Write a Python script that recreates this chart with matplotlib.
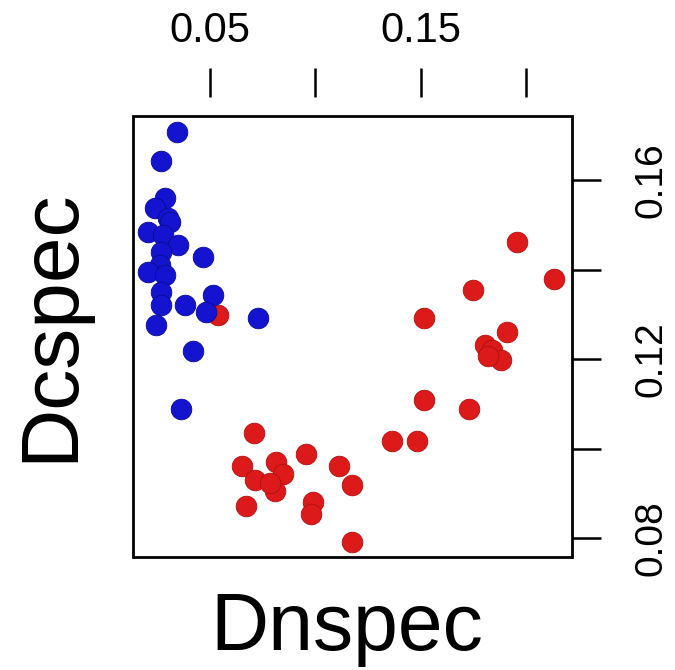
import matplotlib
matplotlib.use("Agg")
import matplotlib.pyplot as plt
from matplotlib.patches import Rectangle

plt.rcParams['font.family'] = ['Liberation Sans', 'DejaVu Sans']

# Blue group (Dnspec, Dcspec)
blue_x = [0.0345, 0.0269, 0.0285, 0.0237, 0.0300, 0.0309, 0.0205, 0.0277, 0.0348,
          0.0467, 0.0269, 0.0261, 0.0205, 0.0285, 0.0269, 0.0380, 0.0269, 0.0514,
          0.0483, 0.0245, 0.0728, 0.0419, 0.0364]
blue_y = [0.1707, 0.1643, 0.1559, 0.1537, 0.1515, 0.1506, 0.1484, 0.1477, 0.1455,
          0.1428, 0.1440, 0.1410, 0.1395, 0.1387, 0.1350, 0.1320, 0.1320, 0.1343,
          0.1305, 0.1276, 0.1291, 0.1218, 0.1089]

# Red group
red_x = [0.0538, 0.0709, 0.0958, 0.0654, 0.0815, 0.0847, 0.0712, 0.0807, 0.0784,
         0.0670, 0.0989, 0.0982, 0.1113, 0.1172, 0.1172, 0.1362, 0.1481, 0.1517,
         0.1729, 0.1517, 0.1749, 0.1960, 0.2134, 0.1908, 0.1805, 0.1837, 0.1884,
         0.1820]
red_y = [0.1298, 0.1036, 0.0989, 0.0962, 0.0970, 0.0944, 0.0929, 0.0906, 0.0924,
         0.0871, 0.0880, 0.0854, 0.0962, 0.0918, 0.0791, 0.1017, 0.1017, 0.1108,
         0.1089, 0.1291, 0.1354, 0.1462, 0.1380, 0.1261, 0.1231, 0.1220, 0.1197,
         0.1208]

x_ticks = [0.05, 0.10, 0.15, 0.20]
x_ticklabels = ["0.05", "", "0.15", ""]
y_ticks = [0.08, 0.10, 0.12, 0.14, 0.16]
y_ticklabels = ["0.08", "", "0.12", "", "0.16"]

W, H = 675, 670
fig = plt.figure(figsize=(W / 100, H / 100), dpi=100)
L, R, T, B = 133, 572, 116, 557
ax = fig.add_axes([L / W, 1 - B / H, (R - L) / W, (B - T) / H])

ax.scatter(red_x, red_y, s=220, c='#DC1A1A', edgecolors='#B01010', linewidths=0.6, zorder=3)
ax.scatter(blue_x, blue_y, s=220, c='#1414D0', edgecolors='#0A0A90', linewidths=0.6, zorder=4)

ax.set_xlim(0.01344, 0.2219)
ax.set_ylim(0.0758, 0.1743)

for sp in ax.spines.values():
    sp.set_visible(False)
ax.spines['top'].set_position(('outward', 19 * 0.72))
ax.add_patch(Rectangle((0, 0), 1, 1, transform=ax.transAxes, fill=False,
                       lw=2.0, edgecolor='black', clip_on=False, zorder=5))

ax.xaxis.tick_top()
ax.set_xticks(x_ticks)
ax.set_xticklabels(x_ticklabels)
ax.tick_params(axis='x', which='both', direction='out', length=21, width=1.8,
               labelsize=30, pad=12, top=True, bottom=False)

ax.yaxis.tick_right()
ax.set_yticks(y_ticks)
ax.set_yticklabels(y_ticklabels, rotation=90, va='center')
ax.tick_params(axis='y', which='both', direction='out', length=21, width=1.8,
               labelsize=28, pad=23, right=True, left=False)

fig.text(346.5 / W, 1 - 650 / H, "Dnspec", fontsize=58, ha='center', va='baseline')
fig.text(51 / W, 1 - 325 / H, "Dcspec", fontsize=59, ha='center', va='center', rotation=90)

fig.savefig("out.png", dpi=100)
